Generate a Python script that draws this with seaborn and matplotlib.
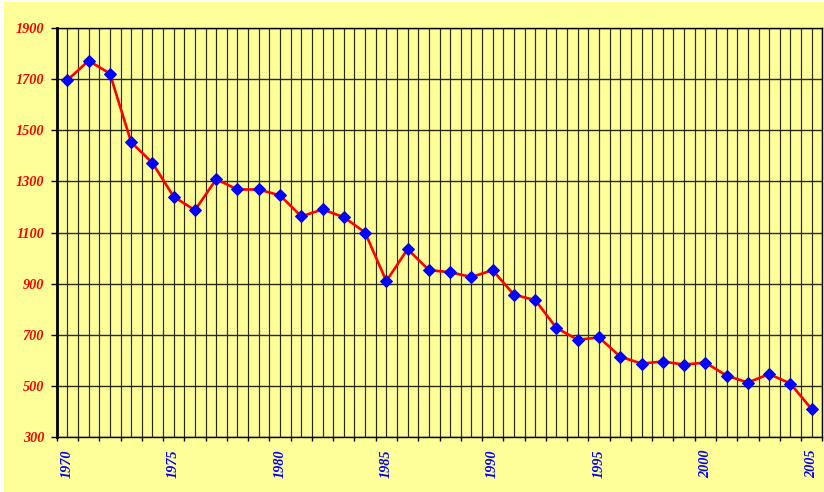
import matplotlib
matplotlib.use("Agg")
import matplotlib.pyplot as plt
import seaborn as sns
import pandas as pd
import numpy as np
from matplotlib.patches import Rectangle

years = list(range(1970, 2006))
values = [1695, 1771, 1721, 1453, 1372, 1240, 1187, 1308, 1268, 1268,
          1245, 1163, 1190, 1160, 1100, 910, 1035, 953, 945, 926,
          953, 857, 836, 727, 681, 690, 615, 588, 596, 584,
          592, 541, 514, 547, 510, 410]
y_ticks = [300, 500, 700, 900, 1100, 1300, 1500, 1700, 1900]
x_label_years = [1970, 1975, 1980, 1985, 1990, 1995, 2000, 2005]

df = pd.DataFrame({"year": years, "value": values})

sns.set_theme(style="white")
plt.rcParams["font.family"] = ["Liberation Serif", "DejaVu Serif"]

BG = "#FFFF99"
fig = plt.figure(figsize=(8.24, 4.92), dpi=100, facecolor="white")
fig.patches.append(Rectangle((4 / 824, 0), 1, (492 - 2) / 492,
                             transform=fig.transFigure, facecolor=BG,
                             edgecolor="none", zorder=-10))
ax = fig.add_axes([56.7 / 824, 1 - 437.3 / 492,
                   (822.3 - 56.7) / 824, (437.3 - 27.7) / 492])
ax.set_facecolor(BG)

GRID = "#2a2a10"
# vertical grid lines at data points and category boundaries
for x in np.arange(years[0] - 0.5, years[-1] + 0.6, 0.5):
    ax.axvline(x, color=GRID, lw=0.85, zorder=1)
for yv in y_ticks:
    ax.axhline(yv, color=GRID, lw=1.0, zorder=1)

sns.lineplot(data=df, x="year", y="value", ax=ax, color="#FF0000",
             lw=1.9, marker="D", markersize=6.2, markerfacecolor="#0000FF",
             markeredgecolor="#0000FF", zorder=3)

ax.set_xlim(years[0] - 0.5, years[-1] + 0.5)
ax.set_ylim(y_ticks[0], y_ticks[-1])
ax.set_xlabel("")
ax.set_ylabel("")

ax.set_yticks(y_ticks)
ax.set_yticklabels([str(v) for v in y_ticks], color="#FF0000",
                   fontweight="bold", fontstyle="italic", fontsize=10.3)
ax.tick_params(axis="y", direction="out", length=4, width=1, color="black",
               pad=5, left=True)

ax.set_xticks(x_label_years)
ax.set_xticklabels([str(v) for v in x_label_years], rotation=90,
                   color="#0000FF", fontweight="bold", fontstyle="italic",
                   fontsize=10.3)
ax.set_xticks(np.arange(years[0] - 0.5, years[-1] + 0.6, 1.0), minor=True)
ax.tick_params(axis="x", which="major", length=0, pad=8.5)
ax.tick_params(axis="x", which="minor", direction="out", length=3,
               width=1, color="black", bottom=True)
ax.grid(False)

for side, sp in ax.spines.items():
    sp.set_visible(True)
    sp.set_color("black")
    sp.set_linewidth(1.0)
    sp.set_zorder(4)
ax.spines["left"].set_linewidth(2.0)

fig.savefig("out.png", dpi=100, facecolor="white")
